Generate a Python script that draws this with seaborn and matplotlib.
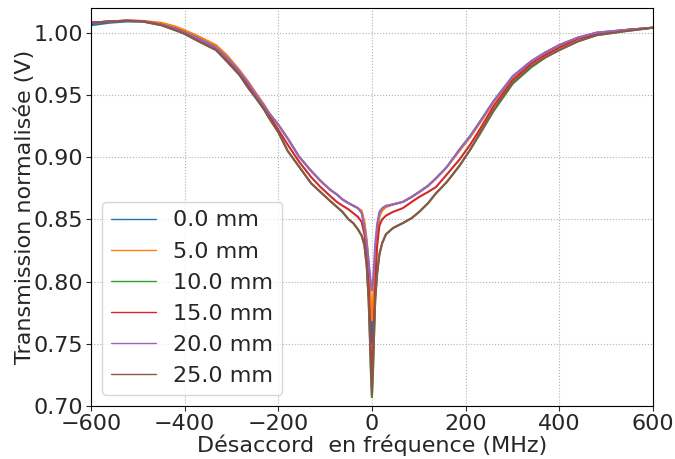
import pandas as pd
import matplotlib
matplotlib.use("Agg")
import matplotlib.pyplot as plt
import seaborn as sns

# ---------------------------------------------------------------
#   Transmission vs detuning for several positions (values read
#   off the reference figure)
# ---------------------------------------------------------------

detuning = [-600, -560, -525, -490, -450, -420, -400, -370, -333, -310,
            -283, -265, -247, -230, -219, -200, -180, -155, -130, -110,
            -90, -75, -63, -50, -40, -30, -22, -16, -11, -7,
            -4, -2, 0, 2, 4, 7, 11, 16, 22, 30,
            45, 66, 85, 101, 120, 137, 160, 187, 210, 230,
            260, 301, 340, 370, 400, 440, 480, 537, 600]

t_0mm = [1.006, 1.008, 1.009, 1.009, 1.007, 1.004, 1.001, 0.996, 0.989, 0.981,
         0.969, 0.960, 0.950, 0.941, 0.935, 0.926, 0.915, 0.900, 0.889, 0.881,
         0.874, 0.870, 0.866, 0.863, 0.861, 0.859, 0.856, 0.846, 0.830, 0.810,
         0.790, 0.770, 0.751, 0.768, 0.788, 0.815, 0.838, 0.853, 0.858, 0.860,
         0.862, 0.864, 0.868, 0.872, 0.877, 0.883, 0.892, 0.906, 0.917, 0.928,
         0.945, 0.965, 0.977, 0.984, 0.990, 0.996, 1.000, 1.002, 1.004]

t_5mm = [1.008, 1.009, 1.0098, 1.0095, 1.008, 1.005, 1.002, 0.997, 0.990, 0.982,
         0.970, 0.961, 0.951, 0.942, 0.935, 0.926, 0.915, 0.900, 0.889, 0.881,
         0.874, 0.870, 0.866, 0.863, 0.861, 0.859, 0.857, 0.848, 0.833, 0.815,
         0.798, 0.782, 0.769, 0.780, 0.797, 0.820, 0.840, 0.853, 0.857, 0.860,
         0.862, 0.864, 0.868, 0.872, 0.877, 0.883, 0.892, 0.905, 0.916, 0.927,
         0.944, 0.964, 0.977, 0.984, 0.990, 0.996, 1.000, 1.002, 1.004]

t_10mm = [1.008, 1.009, 1.0095, 1.009, 1.006, 1.002, 0.999, 0.993, 0.986, 0.977,
          0.966, 0.956, 0.947, 0.938, 0.931, 0.920, 0.905, 0.892, 0.879, 0.872,
          0.865, 0.860, 0.856, 0.850, 0.847, 0.842, 0.837, 0.829, 0.812, 0.785,
          0.750, 0.724, 0.707, 0.724, 0.750, 0.785, 0.806, 0.822, 0.831, 0.838,
          0.843, 0.847, 0.851, 0.856, 0.863, 0.871, 0.880, 0.893, 0.906, 0.918,
          0.937, 0.959, 0.972, 0.980, 0.986, 0.993, 0.998, 1.001, 1.004]

t_15mm = [1.008, 1.009, 1.0097, 1.0093, 1.0065, 1.003, 1.000, 0.994, 0.987, 0.978,
          0.967, 0.958, 0.948, 0.939, 0.933, 0.922, 0.910, 0.896, 0.884, 0.876,
          0.869, 0.864, 0.861, 0.858, 0.855, 0.852, 0.848, 0.838, 0.820, 0.795,
          0.765, 0.740, 0.721, 0.738, 0.760, 0.795, 0.828, 0.845, 0.850, 0.853,
          0.856, 0.859, 0.864, 0.868, 0.872, 0.876, 0.886, 0.898, 0.910, 0.922,
          0.941, 0.962, 0.975, 0.982, 0.988, 0.995, 0.999, 1.002, 1.004]

t_20mm = [1.008, 1.009, 1.0097, 1.0093, 1.0065, 1.003, 1.000, 0.995, 0.988, 0.980,
          0.969, 0.960, 0.950, 0.941, 0.935, 0.926, 0.915, 0.900, 0.889, 0.881,
          0.874, 0.870, 0.866, 0.863, 0.861, 0.859, 0.855, 0.843, 0.830, 0.816,
          0.805, 0.798, 0.793, 0.800, 0.810, 0.830, 0.846, 0.856, 0.859, 0.861,
          0.862, 0.864, 0.868, 0.872, 0.877, 0.883, 0.892, 0.906, 0.917, 0.928,
          0.945, 0.965, 0.977, 0.984, 0.990, 0.996, 1.000, 1.002, 1.004]

t_25mm = [1.008, 1.009, 1.0095, 1.009, 1.006, 1.002, 0.999, 0.993, 0.986, 0.977,
          0.966, 0.956, 0.947, 0.938, 0.931, 0.920, 0.905, 0.892, 0.879, 0.872,
          0.865, 0.860, 0.856, 0.850, 0.847, 0.842, 0.837, 0.829, 0.812, 0.785,
          0.752, 0.727, 0.709, 0.727, 0.752, 0.785, 0.806, 0.822, 0.831, 0.838,
          0.843, 0.847, 0.851, 0.856, 0.863, 0.871, 0.880, 0.893, 0.906, 0.919,
          0.938, 0.960, 0.973, 0.980, 0.986, 0.993, 0.998, 1.001, 1.004]

labels = ["0.0 mm", "5.0 mm", "10.0 mm", "15.0 mm", "20.0 mm", "25.0 mm"]
series = [t_0mm, t_5mm, t_10mm, t_15mm, t_20mm, t_25mm]

# Long-form table for seaborn
frames = []
for lab, vals in zip(labels, series):
    frames.append(pd.DataFrame({"detuning": detuning, "transmission": vals, "position": lab}))
df = pd.concat(frames, ignore_index=True)

# Style
sns.set_style("ticks", {"axes.grid": True, "grid.linestyle": ":",
                        "grid.color": "#b0b0b0", "axes.edgecolor": "black"})
plt.rcParams["font.family"] = ["DejaVu Sans"]

fig, ax = plt.subplots(figsize=(6.75, 4.59), dpi=100)
fig.subplots_adjust(left=0.135, right=0.967, top=0.983, bottom=0.1155)

sns.lineplot(data=df, x="detuning", y="transmission", hue="position",
             hue_order=labels, palette="tab10", estimator=None, sort=False,
             linewidth=1.5, ax=ax)

ax.set_xlim(-600, 600)
ax.set_ylim(0.70, 1.02)
ax.set_xticks([-600, -400, -200, 0, 200, 400, 600])
ax.set_yticks([0.70, 0.75, 0.80, 0.85, 0.90, 0.95, 1.00])
ax.yaxis.set_major_formatter(matplotlib.ticker.FormatStrFormatter("%.2f"))
ax.tick_params(labelsize=16, direction="out", length=3.5, width=0.8, pad=2.5)
ax.set_xlabel("Désaccord  en fréquence (MHz)", fontsize=16, labelpad=0)
ax.set_ylabel("Transmission normalisée (V)", fontsize=16, labelpad=-1)
for sp in ax.spines.values():
    sp.set_linewidth(0.8)

leg = ax.legend(title=None, loc="lower left", fontsize=16, frameon=True,
                handlelength=2.0, labelspacing=0.5)
for h in leg.get_lines():
    h.set_linewidth(1.0)

fig.savefig("out.png", dpi=100)
